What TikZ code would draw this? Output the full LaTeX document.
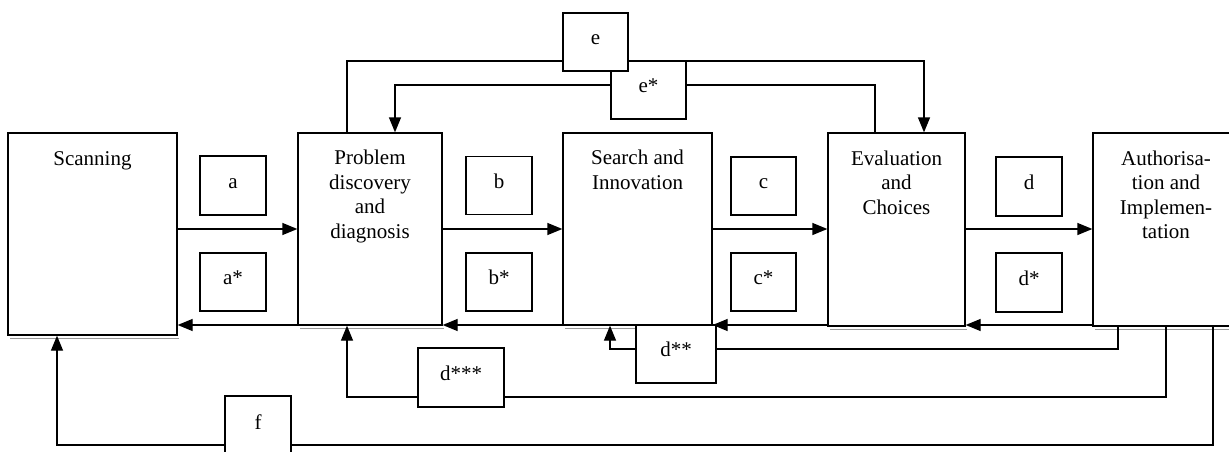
\documentclass[tikz,border=0pt]{standalone}
\usepackage{fontspec}
\setmainfont{Liberation Serif}
\usetikzlibrary{arrows.meta}
\begin{document}
\begin{tikzpicture}[x=1pt,y=-1pt,
  line width=1.3pt,
  stagebox/.style={draw, rectangle, inner sep=0pt, fill=white},
  stagetext/.style={anchor=north, inner sep=0pt, align=center,
    font=\fontsize{21}{24.5}\selectfont},
  tagbox/.style={draw, rectangle, inner sep=0pt, fill=white,
    font=\fontsize{21}{24.5}\selectfont, text height=14pt, text depth=9pt},
  flowarrow/.style={-{Triangle[length=15pt,width=12pt]}},
  boxshadow/.style={draw=black!40, line width=1pt}
]
\useasboundingbox (0,0) rectangle (1229,452);
\clip (0,0) rectangle (1229,452);

% the five stages of the process
\node[stagebox, minimum width=169pt, minimum height=202pt] (scan) at (92.5,234) {};
\node[stagebox, minimum width=144pt, minimum height=192pt] (prob) at (370,229) {};
\node[stagebox, minimum width=149pt, minimum height=192pt] (srch) at (637.5,229) {};
\node[stagebox, minimum width=137pt, minimum height=193pt] (eval) at (896.5,229.5) {};
\node[stagebox, minimum width=146pt, minimum height=193pt] (auth) at (1166,229.5) {};

% faint shadow under each stage
\foreach \b in {scan,prob,srch,eval,auth}
  \draw[boxshadow] ([xshift=3pt,yshift=-3pt]\b.south west) -- ([xshift=1pt,yshift=-3pt]\b.south east);

\node[stagetext] (scantxt) at (92.5,151) {Scanning};
\node[stagetext] (probtxt) at (370,149.5) {Problem\\discovery\\and\\diagnosis};
\node[stagetext] (srchtxt) at (637.5,149.5) {Search and\\Innovation};
\node[stagetext] (evaltxt) at (896.5,150) {Evaluation\\and\\Choices};
\node[stagetext] (authtxt) at (1166,150) {Authorisa-\\tion and\\Implemen-\\tation};

% levels and columns of the connectors
\coordinate (yfwd) at (0,229);
\coordinate (ybck) at (0,325);
\coordinate (ytopa) at (0,61);
\coordinate (ytopb) at (0,85);
\coordinate (ydtwo) at (0,349);
\coordinate (ydthree) at (0,397);
\coordinate (yfback) at (0,445);
\coordinate (xpa) at (347,0);
\coordinate (xpb) at (395,0);
\coordinate (xea) at (924,0);
\coordinate (xeb) at (875,0);
\coordinate (xs) at (610,0);
\coordinate (xsc) at (57,0);
\coordinate (xaa) at (1118,0);
\coordinate (xab) at (1166,0);
\coordinate (xac) at (1213,0);

% forward and backward links between neighbouring stages
\draw[flowarrow] (scan.east |- yfwd) -- (prob.west |- yfwd);
\draw[flowarrow] (prob.west |- ybck) -- (scan.east |- ybck);
\draw[flowarrow] (prob.east |- yfwd) -- (srch.west |- yfwd);
\draw[flowarrow] (srch.west |- ybck) -- (prob.east |- ybck);
\draw[flowarrow] (srch.east |- yfwd) -- (eval.west |- yfwd);
\draw[flowarrow] (eval.west |- ybck) -- (srch.east |- ybck);
\draw[flowarrow] (eval.east |- yfwd) -- (auth.west |- yfwd);
\draw[flowarrow] (auth.west |- ybck) -- (eval.east |- ybck);

% loops over the top
\draw[flowarrow] (prob.north -| xpa) -- (xpa |- ytopa) -- (xea |- ytopa) -- (eval.north -| xea);
\draw[flowarrow] (eval.north -| xeb) -- (xeb |- ytopb) -- (xpb |- ytopb) -- (prob.north -| xpb);

% loops back from implementation along the bottom
\draw[flowarrow] (auth.south -| xaa) -- (xaa |- ydtwo) -- (xs |- ydtwo) -- (srch.south -| xs);
\draw[flowarrow] (auth.south -| xab) -- (xab |- ydthree) -- (xpa |- ydthree) -- (prob.south -| xpa);
\draw[flowarrow] (auth.south -| xac) -- (xac |- yfback) -- (xsc |- yfback) -- (scan.south -| xsc);

% labels of the links
\node[tagbox, minimum width=66pt, minimum height=59pt] (a) at (233,185.5) {a};
\node[tagbox, minimum width=66pt, minimum height=58pt] (as) at (233,282) {a*};
\node[tagbox, minimum width=66pt, minimum height=58pt] (b) at (499,185.5) {b};
\node[tagbox, minimum width=66pt, minimum height=58pt] (bs) at (499,282) {b*};
\node[tagbox, minimum width=65pt, minimum height=58pt] (c) at (763.5,186) {c};
\node[tagbox, minimum width=65pt, minimum height=58pt] (cs) at (763.5,282) {c*};
\node[tagbox, minimum width=66pt, minimum height=59pt] (d) at (1029,186.5) {d};
\node[tagbox, minimum width=66pt, minimum height=59pt] (ds) at (1029,282.5) {d*};
\node[tagbox, minimum width=75pt, minimum height=58pt] (es) at (648.5,90) {e*};
\node[tagbox, minimum width=65pt, minimum height=58pt] (e) at (595.5,42) {e};
\node[tagbox, minimum width=80pt, minimum height=58pt] (dss) at (676,354) {d**};
\node[tagbox, minimum width=86pt, minimum height=59pt] (dsss) at (461,377.5) {d***};
\node[tagbox, minimum width=66pt, minimum height=66pt, text depth=14pt] (f) at (258,429) {f};
\end{tikzpicture}
\end{document}
